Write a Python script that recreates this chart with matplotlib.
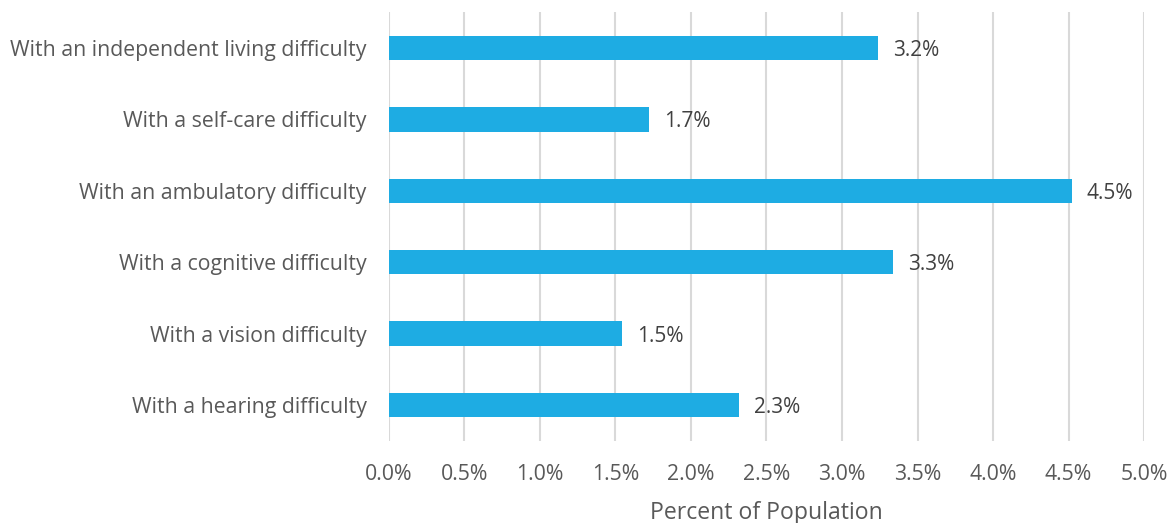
import matplotlib
matplotlib.use("Agg")
import matplotlib.pyplot as plt
from matplotlib.ticker import FuncFormatter

categories = ["With a hearing difficulty", "With a vision difficulty", "With a cognitive difficulty",
              "With an ambulatory difficulty", "With a self-care difficulty",
              "With an independent living difficulty"]
values = [2.32, 1.54, 3.34, 4.52, 1.72, 3.24]
xticks = [0.0, 0.5, 1.0, 1.5, 2.0, 2.5, 3.0, 3.5, 4.0, 4.5, 5.0]

plt.rcParams['font.family'] = ['Open Sans', 'DejaVu Sans']
text_color = '#595959'

fig = plt.figure(figsize=(11.73, 5.23), dpi=100)
ax = fig.add_axes([0.3316, 0.1574, 0.9753 - 0.3316, 0.9765 - 0.1574])
y = list(range(len(categories)))
ax.barh(y, values, height=0.34, color='#1EACE3', zorder=3)
for yi, v in zip(y, values):
    ax.text(v + 0.1, yi, f"{v:.1f}%", va='center_baseline', ha='left', fontsize=15, color='#404040')

ax.set_xlim(0, 5.0)
ax.set_ylim(-0.5, len(categories) - 0.5)
ax.set_xticks(xticks)
ax.xaxis.set_major_formatter(FuncFormatter(lambda v, p: f"{v:.1f}%"))
ax.set_yticks(y)
ax.set_yticklabels(categories)
ax.tick_params(axis='both', length=0, labelsize=15.3, colors=text_color)
ax.tick_params(axis='x', pad=17)
ax.tick_params(axis='y', pad=16)
ax.grid(axis='x', color='#D9D9D9', linewidth=1.5, zorder=0)
for s in ax.spines.values():
    s.set_visible(False)
ax.set_xlabel("Percent of Population", fontsize=16.6, color=text_color, labelpad=11)

fig.savefig("out.png", dpi=100)
